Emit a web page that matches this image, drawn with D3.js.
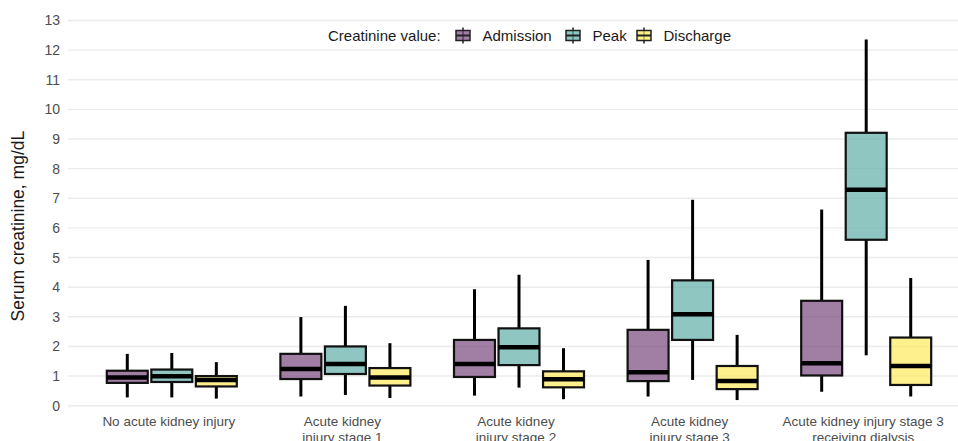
<!DOCTYPE html>
<html>
<head>
<meta charset="utf-8">
<script src="https://cdn.jsdelivr.net/npm/d3@7"></script>
<style>
  body { margin: 0; background: #fff; }
  text { font-family: "Liberation Sans", Arial, sans-serif; }
</style>
</head>
<body>
<script>
//////////////// Datas ////////////////////
var categories = [
  ["No acute kidney injury"],
  ["Acute kidney", "injury stage 1"],
  ["Acute kidney", "injury stage 2"],
  ["Acute kidney", "injury stage 3"],
  ["Acute kidney injury stage 3", "receiving dialysis"]
];
var seriesNames = ["Admission", "Peak", "Discharge"];
// [whisker low, q1, median, q3, whisker high] per category
var admission = [
  [0.28, 0.77, 0.95, 1.18, 1.75],
  [0.31, 0.90, 1.24, 1.75, 2.99],
  [0.34, 0.97, 1.41, 2.22, 3.93],
  [0.31, 0.83, 1.13, 2.56, 4.92],
  [0.47, 1.02, 1.43, 3.54, 6.62]
];
var peak = [
  [0.28, 0.80, 0.99, 1.22, 1.78],
  [0.36, 1.07, 1.41, 2.00, 3.37],
  [0.61, 1.37, 1.97, 2.61, 4.42],
  [0.87, 2.22, 3.09, 4.23, 6.95],
  [1.70, 5.60, 7.29, 9.21, 12.36]
];
var discharge = [
  [0.24, 0.65, 0.87, 1.00, 1.47],
  [0.26, 0.68, 0.95, 1.27, 2.11],
  [0.22, 0.62, 0.89, 1.16, 1.94],
  [0.19, 0.56, 0.83, 1.34, 2.39],
  [0.31, 0.70, 1.34, 2.30, 4.31]
];
var yTicks = d3.range(0, 14);
var colors = ["rgba(121,72,126,0.7)", "rgba(95,174,168,0.7)", "rgba(255,234,94,0.7)"];

//////////////// Variables ////////////////////
var W = 958, H = 441;
var margin = {top: 20.5, right: 0, bottom: 35.3, left: 68};
var height = H - margin.top - margin.bottom;

var svg = d3.select("body")
  .append("svg")
  .attr("width", W)
  .attr("height", H);

////////////////// Scaling ////////////
var x = d3.scaleBand()
  .domain(d3.range(categories.length))
  .range([85, 953]);
var xInner = d3.scaleBand()
  .domain(d3.range(seriesNames.length))
  .range([-65, 65])
  .paddingInner(0.08);
var y = d3.scaleLinear()
  .domain([0, 13])
  .range([margin.top + height, margin.top]);

//////////////// Grid ////////////////////
svg.append("g")
  .selectAll("line")
  .data(yTicks)
  .enter()
  .append("line")
  .attr("x1", margin.left)
  .attr("x2", W)
  .attr("y1", function(d){ return y(d); })
  .attr("y2", function(d){ return y(d); })
  .style("stroke", "#ebebeb")
  .style("stroke-width", 1.4);

//////////////// Axen ////////////////////
var yAxis = d3.axisLeft(y).tickValues(yTicks).tickSize(0).tickPadding(0);
var yG = svg.append("g")
  .attr("transform", "translate(" + (margin.left - 8) + ",0)")
  .call(yAxis);
yG.select(".domain").remove();
yG.selectAll("text")
  .style("font-size", "14px")
  .style("fill", "#4d4d4d");

svg.append("text")
  .attr("transform", "translate(24," + (margin.top + height / 2 + 13) + ") rotate(-90)")
  .style("text-anchor", "middle")
  .style("font-size", "17.5px")
  .style("fill", "#1a1a1a")
  .text("Serum creatinine, mg/dL");

var xLabels = svg.append("g")
  .selectAll("text")
  .data(categories)
  .enter()
  .append("text")
  .attr("x", function(d, i){ return x(i) + x.bandwidth() / 2 - 3; })
  .attr("y", 426)
  .style("text-anchor", "middle")
  .style("font-size", "13.5px")
  .style("fill", "#4d4d4d");
xLabels.selectAll("tspan")
  .data(function(d){ return d; })
  .enter()
  .append("tspan")
  .attr("x", function(){ return d3.select(this.parentNode).attr("x"); })
  .attr("dy", function(d, i){ return i === 0 ? 0 : 16; })
  .text(function(d){ return d; });

//////////////// Boxes ////////////////////
var allSeries = [admission, peak, discharge];
var boxData = [];
categories.forEach(function(c, i){
  allSeries.forEach(function(s, j){
    boxData.push({cat: i, ser: j, v: s[i]});
  });
});

var boxes = svg.append("g")
  .selectAll("g.box")
  .data(boxData)
  .enter()
  .append("g")
  .attr("class", "box")
  .attr("transform", function(d){
    return "translate(" + (x(d.cat) + x.bandwidth() / 2 + xInner(d.ser)) + ",0)";
  });

var bw = xInner.bandwidth();

// whiskers
boxes.append("line")
  .attr("x1", bw / 2).attr("x2", bw / 2)
  .attr("y1", function(d){ return y(d.v[0]); })
  .attr("y2", function(d){ return y(d.v[1]); })
  .style("stroke", "#000").style("stroke-width", 3);
boxes.append("line")
  .attr("x1", bw / 2).attr("x2", bw / 2)
  .attr("y1", function(d){ return y(d.v[3]); })
  .attr("y2", function(d){ return y(d.v[4]); })
  .style("stroke", "#000").style("stroke-width", 3);

boxes.append("rect")
  .attr("x", 0)
  .attr("width", bw)
  .attr("y", function(d){ return y(d.v[3]); })
  .attr("height", function(d){ return y(d.v[1]) - y(d.v[3]); })
  .style("fill", function(d){ return colors[d.ser]; })
  .style("stroke", "#111")
  .style("stroke-width", 2.2);

// median
boxes.append("line")
  .attr("x1", 0).attr("x2", bw)
  .attr("y1", function(d){ return y(d.v[2]); })
  .attr("y2", function(d){ return y(d.v[2]); })
  .style("stroke", "#000").style("stroke-width", 4.5);

//////////////// Legende ////////////////////
var legend = svg.append("g")
  .attr("transform", "translate(0,35.5)");
legend.append("text")
  .attr("x", 328)
  .attr("y", 5)
  .style("font-size", "15px")
  .style("fill", "#1a1a1a")
  .text("Creatinine value:");

var legendX = [463, 573, 644];
var items = legend.selectAll("g.item")
  .data(seriesNames)
  .enter()
  .append("g")
  .attr("class", "item")
  .attr("transform", function(d, i){ return "translate(" + legendX[i] + ",0)"; });
items.append("line")
  .attr("x1", 0).attr("x2", 0).attr("y1", -8).attr("y2", 8)
  .style("stroke", "#222").style("stroke-width", 1.5);
items.append("rect")
  .attr("x", -7).attr("y", -5).attr("width", 14).attr("height", 10)
  .style("fill", function(d, i){ return colors[i]; })
  .style("stroke", "#222").style("stroke-width", 1.5);
items.append("line")
  .attr("x1", -7).attr("x2", 7).attr("y1", 0).attr("y2", 0)
  .style("stroke", "#222").style("stroke-width", 2);
items.append("text")
  .attr("x", 19.5)
  .attr("y", 5)
  .style("font-size", "15px")
  .style("fill", "#1a1a1a")
  .text(function(d){ return d; });
</script>
</body>
</html>
